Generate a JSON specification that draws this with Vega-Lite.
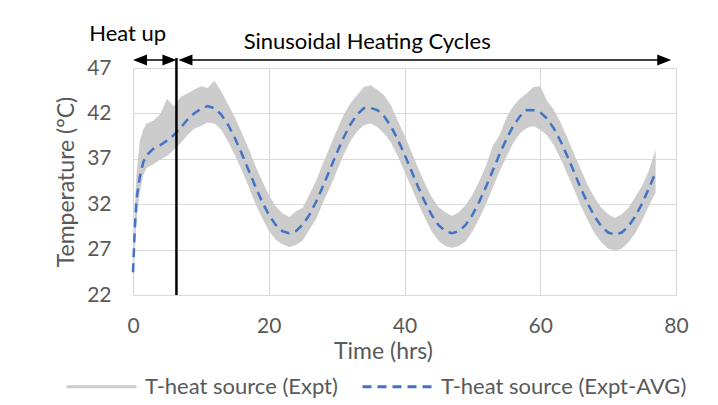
{
  "$schema": "https://vega.github.io/schema/vega-lite/v6.json",
  "width": 543,
  "height": 227,
  "autosize": {"type": "none"},
  "padding": {"left": 133, "top": 68, "right": 42, "bottom": 110},
  "background": "white",
  "config": {
    "font": "Lato",
    "view": {"stroke": null},
    "axis": {
      "grid": true, "gridColor": "#d9d9d9", "gridWidth": 1.2,
      "domain": false, "ticks": false, "tickSize": 0, "labelFlush": false,
      "labelColor": "#595959", "labelFont": "Lato", "labelFontSize": 21,
      "titleColor": "#595959", "titleFont": "Lato", "titleFontSize": 23, "titleFontWeight": "normal"
    },
    "legend": {
      "title": null, "orient": "none", "legendX": -68, "legendY": 282,
      "direction": "horizontal", "padding": 0,
      "symbolType": "stroke", "symbolSize": 4900, "symbolStrokeWidth": 3,
      "labelFont": "Lato", "labelFontSize": 22, "labelColor": "#595959", "labelLimit": 0,
      "labelOffset": 7, "columnPadding": 18
    }
  },
  "data": {
    "values": [
      {"t": 0, "avg": 24.5, "lo": 22.2, "hi": 24.6},
      {"t": 0.25, "avg": 29.0, "lo": 27.0, "hi": 31.0},
      {"t": 0.5, "avg": 32.5, "lo": 30.0, "hi": 35.2},
      {"t": 1, "avg": 35.0, "lo": 33.3, "hi": 39.0},
      {"t": 1.5, "avg": 36.6, "lo": 35.2, "hi": 40.2},
      {"t": 2, "avg": 37.4, "lo": 36.0, "hi": 40.9},
      {"t": 3, "avg": 38.1, "lo": 36.4, "hi": 41.2},
      {"t": 4, "avg": 38.5, "lo": 36.9, "hi": 41.9},
      {"t": 5, "avg": 39.0, "lo": 37.3, "hi": 43.6},
      {"t": 6, "avg": 39.6, "lo": 38.0, "hi": 42.8},
      {"t": 7, "avg": 40.4, "lo": 38.7, "hi": 43.8},
      {"t": 8, "avg": 41.3, "lo": 39.6, "hi": 44.2},
      {"t": 9, "avg": 42.0, "lo": 40.3, "hi": 44.6},
      {"t": 10, "avg": 42.5, "lo": 40.6, "hi": 45.0},
      {"t": 11, "avg": 42.8, "lo": 41.0, "hi": 44.8},
      {"t": 12, "avg": 42.56, "lo": 40.9, "hi": 45.6},
      {"t": 13, "avg": 41.86, "lo": 40.2, "hi": 44.4},
      {"t": 14, "avg": 40.75, "lo": 38.9, "hi": 43.0},
      {"t": 15, "avg": 39.3, "lo": 37.4, "hi": 41.6},
      {"t": 16, "avg": 37.6, "lo": 35.8, "hi": 39.9},
      {"t": 17, "avg": 35.8, "lo": 34.0, "hi": 38.2},
      {"t": 18, "avg": 34.0, "lo": 32.1, "hi": 36.3},
      {"t": 19, "avg": 32.3, "lo": 30.5, "hi": 34.6},
      {"t": 20, "avg": 30.85, "lo": 29.1, "hi": 33.0},
      {"t": 21, "avg": 29.74, "lo": 28.1, "hi": 31.8},
      {"t": 22, "avg": 29.04, "lo": 27.6, "hi": 31.0},
      {"t": 23, "avg": 28.8, "lo": 27.3, "hi": 30.6},
      {"t": 24, "avg": 29.04, "lo": 27.5, "hi": 31.2},
      {"t": 25, "avg": 29.74, "lo": 28.0, "hi": 31.6},
      {"t": 26, "avg": 30.85, "lo": 29.2, "hi": 33.1},
      {"t": 27, "avg": 32.3, "lo": 30.4, "hi": 34.6},
      {"t": 28, "avg": 34.0, "lo": 32.2, "hi": 36.5},
      {"t": 29, "avg": 35.8, "lo": 33.8, "hi": 38.3},
      {"t": 30, "avg": 37.6, "lo": 35.6, "hi": 40.1},
      {"t": 31, "avg": 39.3, "lo": 37.4, "hi": 41.8},
      {"t": 32, "avg": 40.75, "lo": 38.9, "hi": 43.1},
      {"t": 33, "avg": 41.86, "lo": 40.0, "hi": 44.0},
      {"t": 34, "avg": 42.56, "lo": 40.7, "hi": 44.9},
      {"t": 35, "avg": 42.6, "lo": 40.9, "hi": 45.1},
      {"t": 36, "avg": 42.37, "lo": 40.5, "hi": 44.6},
      {"t": 37, "avg": 41.68, "lo": 39.8, "hi": 44.0},
      {"t": 38, "avg": 40.58, "lo": 38.8, "hi": 42.9},
      {"t": 39, "avg": 39.15, "lo": 37.3, "hi": 41.2},
      {"t": 40, "avg": 37.49, "lo": 35.6, "hi": 39.6},
      {"t": 41, "avg": 35.7, "lo": 33.9, "hi": 37.8},
      {"t": 42, "avg": 33.91, "lo": 32.1, "hi": 36.0},
      {"t": 43, "avg": 32.25, "lo": 30.5, "hi": 34.3},
      {"t": 44, "avg": 30.82, "lo": 29.0, "hi": 32.8},
      {"t": 45, "avg": 29.72, "lo": 28.0, "hi": 31.7},
      {"t": 46, "avg": 29.03, "lo": 27.4, "hi": 31.1},
      {"t": 47, "avg": 28.8, "lo": 27.2, "hi": 30.7},
      {"t": 48, "avg": 29.03, "lo": 27.4, "hi": 31.1},
      {"t": 49, "avg": 29.72, "lo": 27.9, "hi": 31.9},
      {"t": 50, "avg": 30.82, "lo": 29.0, "hi": 33.0},
      {"t": 51, "avg": 32.25, "lo": 30.4, "hi": 34.5},
      {"t": 52, "avg": 33.91, "lo": 32.0, "hi": 36.2},
      {"t": 53, "avg": 35.7, "lo": 33.8, "hi": 38.4},
      {"t": 54, "avg": 37.49, "lo": 35.6, "hi": 39.6},
      {"t": 55, "avg": 39.15, "lo": 37.2, "hi": 41.5},
      {"t": 56, "avg": 40.58, "lo": 38.7, "hi": 42.8},
      {"t": 57, "avg": 41.68, "lo": 39.8, "hi": 43.6},
      {"t": 58, "avg": 42.37, "lo": 40.4, "hi": 44.2},
      {"t": 59, "avg": 42.35, "lo": 40.6, "hi": 44.9},
      {"t": 60, "avg": 42.12, "lo": 40.2, "hi": 45.0},
      {"t": 61, "avg": 41.43, "lo": 39.6, "hi": 43.4},
      {"t": 62, "avg": 40.34, "lo": 38.5, "hi": 42.4},
      {"t": 63, "avg": 38.93, "lo": 37.0, "hi": 41.0},
      {"t": 64, "avg": 37.27, "lo": 35.3, "hi": 39.3},
      {"t": 65, "avg": 35.5, "lo": 33.6, "hi": 37.5},
      {"t": 66, "avg": 33.73, "lo": 31.8, "hi": 35.8},
      {"t": 67, "avg": 32.07, "lo": 30.2, "hi": 34.1},
      {"t": 68, "avg": 30.66, "lo": 28.8, "hi": 32.7},
      {"t": 69, "avg": 29.57, "lo": 27.8, "hi": 31.6},
      {"t": 70, "avg": 28.88, "lo": 27.1, "hi": 30.9},
      {"t": 71, "avg": 28.65, "lo": 26.9, "hi": 30.5},
      {"t": 72, "avg": 28.88, "lo": 27.1, "hi": 30.9},
      {"t": 73, "avg": 29.57, "lo": 27.8, "hi": 31.6},
      {"t": 74, "avg": 30.66, "lo": 28.8, "hi": 32.8},
      {"t": 75, "avg": 32.07, "lo": 30.2, "hi": 34.0},
      {"t": 76, "avg": 33.73, "lo": 31.8, "hi": 35.7},
      {"t": 77, "avg": 35.5, "lo": 33.3, "hi": 38.0}
    ]
  },
  "layer": [
    {
      "mark": {"type": "area", "opacity": 1},
      "encoding": {
        "x": {"field": "t", "type": "quantitative",
              "scale": {"domain": [0, 80], "nice": false},
              "axis": {"values": [0, 20, 40, 60, 80], "labelPadding": 20, "titlePadding": 4, "titleX": 250},
              "title": "Time (hrs)"},
        "y": {"field": "lo", "type": "quantitative",
              "scale": {"domain": [22, 47], "nice": false, "zero": false},
              "axis": {"values": [22, 27, 32, 37, 42, 47], "labelPadding": 22, "titlePadding": 8},
              "title": "Temperature (°C)"},
        "y2": {"field": "hi"},
        "color": {"datum": "T-heat source (Expt)", "type": "nominal",
          "scale": {"domain": ["T-heat source (Expt)", "T-heat source (Expt-AVG)"], "range": ["#cccccc", "#4472c4"]},
          "legend": {
            "encode": {"symbols": {"update": {
              "fill": {"value": "transparent"},
              "stroke": {"scale": "color", "field": "value"},
              "strokeWidth": [{"test": "datum.value === 'T-heat source (Expt-AVG)'", "value": 2.5}, {"value": 4}]
            }}}
          }}
      }
    },
    {
      "mark": {"type": "line", "strokeWidth": 2.5},
      "encoding": {
        "x": {"field": "t", "type": "quantitative"},
        "y": {"field": "avg", "type": "quantitative"},
        "color": {"datum": "T-heat source (Expt-AVG)", "type": "nominal"},
        "strokeDash": {"datum": "T-heat source (Expt-AVG)", "type": "nominal",
          "scale": {"domain": ["T-heat source (Expt)", "T-heat source (Expt-AVG)"], "range": [[1, 0], [9, 6]]}}
      }
    },
    {
      "data": {"values": [{}]},
      "mark": {"type": "rule", "color": "black", "strokeWidth": 2.5},
      "encoding": {"x": {"datum": 6.4, "type": "quantitative"}, "y": {"datum": 48.1, "type": "quantitative"}, "y2": {"datum": 22}}
    },
    {
      "data": {"values": [{}]},
      "mark": {"type": "rule", "color": "black", "strokeWidth": 1.3},
      "encoding": {"x": {"datum": 0.5, "type": "quantitative"}, "x2": {"datum": 6.0}, "y": {"datum": 47.88, "type": "quantitative"}}
    },
    {
      "data": {"values": [{}]},
      "mark": {"type": "rule", "color": "black", "strokeWidth": 1.3},
      "encoding": {"x": {"datum": 7.0, "type": "quantitative"}, "x2": {"datum": 78.8}, "y": {"datum": 47.88, "type": "quantitative"}}
    },
    {
      "data": {"values": [{}]},
      "mark": {"type": "point", "shape": "M-1,0L1,-0.8L1,0.8Z", "size": 196, "filled": true, "color": "black", "opacity": 1},
      "encoding": {"x": {"datum": 1.03, "type": "quantitative"}, "y": {"datum": 47.88, "type": "quantitative"}}
    },
    {
      "data": {"values": [{}]},
      "mark": {"type": "point", "shape": "M1,0L-1,-0.8L-1,0.8Z", "size": 196, "filled": true, "color": "black", "opacity": 1},
      "encoding": {"x": {"datum": 5.37, "type": "quantitative"}, "y": {"datum": 47.88, "type": "quantitative"}}
    },
    {
      "data": {"values": [{}]},
      "mark": {"type": "point", "shape": "M-1,0L1,-0.8L1,0.8Z", "size": 196, "filled": true, "color": "black", "opacity": 1},
      "encoding": {"x": {"datum": 7.73, "type": "quantitative"}, "y": {"datum": 47.88, "type": "quantitative"}}
    },
    {
      "data": {"values": [{}]},
      "mark": {"type": "point", "shape": "M1,0L-1,-0.8L-1,0.8Z", "size": 196, "filled": true, "color": "black", "opacity": 1},
      "encoding": {"x": {"datum": 78.27, "type": "quantitative"}, "y": {"datum": 47.88, "type": "quantitative"}}
    },
    {
      "data": {"values": [{}]},
      "mark": {"type": "text", "font": "Lato", "fontSize": 22, "color": "black", "baseline": "alphabetic", "align": "center"},
      "encoding": {"x": {"datum": -0.78, "type": "quantitative"}, "y": {"datum": 50.0, "type": "quantitative"}, "text": {"value": "Heat up"}}
    },
    {
      "data": {"values": [{}]},
      "mark": {"type": "text", "font": "Lato", "fontSize": 22, "color": "black", "baseline": "alphabetic", "align": "center"},
      "encoding": {"x": {"datum": 34.5, "type": "quantitative"}, "y": {"datum": 49.1, "type": "quantitative"}, "text": {"value": "Sinusoidal Heating Cycles"}}
    }
  ]
}
